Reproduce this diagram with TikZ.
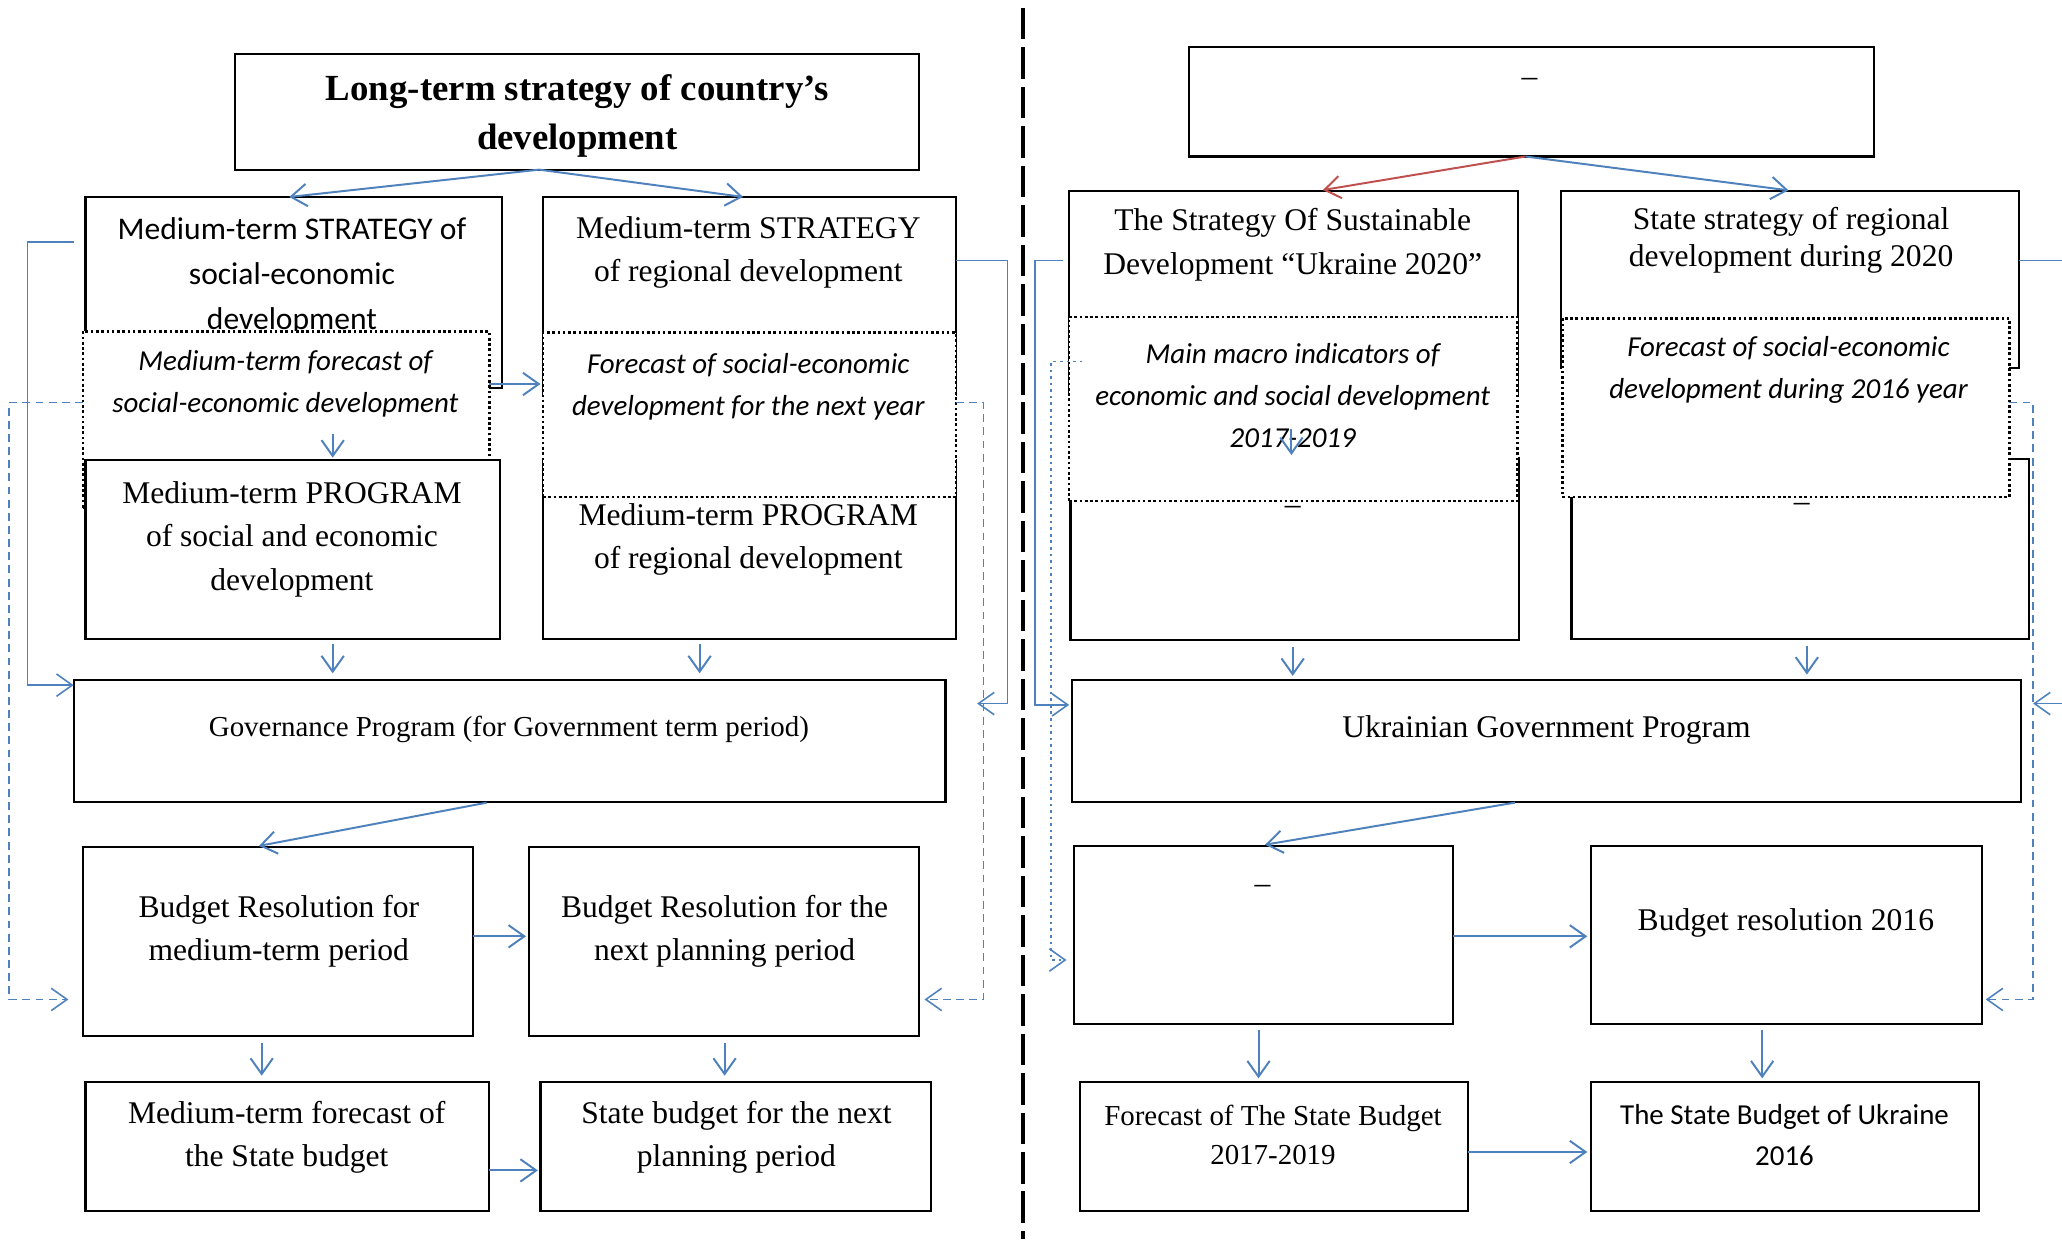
\documentclass[tikz,border=0pt]{standalone}
\usepackage{fontspec}
\setmainfont{Liberation Serif}
\newfontfamily\calibri{Carlito}
\usetikzlibrary{arrows.meta,fit}
\definecolor{ublue}{HTML}{4F81BD}
\definecolor{ured}{HTML}{C0504D}
\tikzset{
  box/.style={draw, line width=0.8pt, fill=white, inner sep=0pt, outer sep=0pt},
  dbox/.style={draw, line width=1pt, dash pattern=on 1pt off 1pt, fill=white, inner sep=0pt, outer sep=0pt},
  txt/.style={align=center, inner sep=0pt, font=\fontsize{12pt}{16.5pt}\selectfont},
  txtsm/.style={align=center, inner sep=0pt, font=\fontsize{11pt}{15pt}\selectfont},
  ctxt/.style={align=center, inner sep=0pt, font=\calibri\fontsize{12pt}{17pt}\selectfont},
  ctxtsm/.style={align=center, inner sep=0pt, font=\calibri\fontsize{11pt}{15.5pt}\selectfont},
  itxt/.style={align=center, inner sep=0pt, font=\calibri\itshape\fontsize{11pt}{16pt}\selectfont},
  titletxt/.style={align=center, inner sep=0pt, font=\bfseries\fontsize{14pt}{18.5pt}\selectfont},
  conn/.style={draw=ublue, line width=0.75pt, -{Straight Barb[length=6pt,width=8.5pt]}},
  redconn/.style={conn, draw=ured},
  fb/.style={draw=ublue, line width=0.6pt, -{Straight Barb[length=6pt,width=8.5pt]}},
  fbd/.style={fb, dash pattern=on 3pt off 2pt},
  fbo/.style={fb, dash pattern=on 1pt off 1.5pt},
  sepline/.style={draw=black, line width=1.25pt, dash pattern=on 12pt off 3pt, dash phase=-3pt},
}
\begin{document}
\begin{tikzpicture}[x=0.5pt,y=-0.5pt]
\useasboundingbox (0,0) rectangle (1568,942.2);
\clip (0,0) rectangle (1568,942.2);

% separator
\coordinate (s1) at (778,0);
\coordinate (s2) at (778,942.2);
\draw[sepline] (s1) -- (s2);

% ---------------- LEFT ----------------
\node[box, fit={(179,41)(699,129)}] (T1) {};
\node[titletxt] (T1t) at (439,88) {Long-term strategy of country’s\\development};

\node[box, fit={(65,150)(382,295)}] (sA) {};
\node[ctxt] (sAt) at (222,210) {Medium-term STRATEGY of\\social-economic\\development};
\node[dbox, fit={(63,252)(372,386)}] (dA) {};
\node[itxt] (dAt) at (217,292) {Medium-term forecast of\\social-economic development};
\node[box, fit={(65,350)(380,486)}] (pA) {};
\node[txt] (pAt) at (222,410) {Medium-term PROGRAM\\of social and economic\\development};

\node[box, fit={(413,150)(727,300)}] (sB) {};
\node[txt] (sBt) at (569,192) {Medium-term STRATEGY\\of regional development};
\node[box, fit={(413,350)(727,486)}] (pB) {};
\node[dbox, fit={(413,253)(727,378)}] (dB) {};
\node[itxt] (dBt) at (569,294) {Forecast of social-economic\\development for the next year};
\node[txt] (pBt) at (569,410) {Medium-term PROGRAM\\of regional development};

\node[box, fit={(56,517)(719,610)}] (G1) {};
\node[txtsm] (G1t) at (387,555) {Governance Program (for Government term period)};

\node[box, fit={(63,644)(360,788)}] (bA) {};
\node[txt] (bAt) at (212,708) {Budget Resolution for\\medium-term period};
\node[box, fit={(402,644)(699,788)}] (bB) {};
\node[txt] (bBt) at (551,708) {Budget Resolution for the\\next planning period};

\node[box, fit={(65,823)(372,921)}] (fA) {};
\node[txt] (fAt) at (218,865) {Medium-term forecast of\\the State budget};
\node[box, fit={(411,823)(708,921)}] (fB) {};
\node[txt] (fBt) at (560,865) {State budget for the next\\planning period};

% ---------------- RIGHT ----------------
\node[box, fit={(904,36)(1425,119)}] (T2) {};
\node[txt] (T2t) at (1163,63) {–};

\node[box, fit={(813,145)(1154,300)}] (sC) {};
\node[txt] (sCt) at (983,186) {The Strategy Of Sustainable\\Development “Ukraine 2020”};
\node[box, fit={(814,348)(1155,487)}] (pC) {};
\node[dbox, fit={(813,241)(1154,381)}] (dC) {};
\node[itxt] (dCt) at (983,301) {Main macro indicators of\\economic and social development\\2017-2019};
\node[txt] (pCt) at (983,388) {–};

\node[box, fit={(1187,145)(1535,280)}] (sD) {};
\node[txt, font=\fontsize{12pt}{14pt}\selectfont] (sDt) at (1362,183) {State strategy of regional\\development during 2020};
\node[box, fit={(1195,349)(1543,486)}] (pD) {};
\node[dbox, fit={(1188,242)(1528,378)}] (dD) {};
\node[itxt] (dDt) at (1360,281) {Forecast of social-economic\\development during 2016 year};
\node[txt] (pDt) at (1370,386) {–};

\node[box, fit={(815,517)(1537,610)}] (G2) {};
\node[txt] (G2t) at (1176,555) {Ukrainian Government Program};

\node[box, fit={(817,643)(1105,779)}] (bE) {};
\node[txt] (bEt) at (960,676) {–};
\node[box, fit={(1210,643)(1507,779)}] (bF) {};
\node[txt] (bFt) at (1358,702) {Budget resolution 2016};

\node[box, fit={(821,823)(1116,921)}] (fG) {};
\node[txtsm] (fGt) at (968,863) {Forecast of The State Budget\\2017-2019};
\node[box, fit={(1210,823)(1505,921)}] (fH) {};
\node[ctxtsm] (fHt) at (1357,863) {The State Budget of Ukraine\\2016};

% ---------------- CONNECTORS LEFT ----------------
\draw[conn, shorten >=1pt] (T1.south -| 410,0) -- (sA.north -| 218,0);
\draw[conn, shorten >=1pt] (T1.south -| 410,0) -- (sB.north -| 567,0);
\coordinate (a3) at (253,330);
\draw[conn, shorten >=1pt] (a3) -- (pA.north -| a3);
\draw[conn, shorten >=1pt] (dA.east |- 0,292) -- (dB.west |- 0,292);
\draw[conn, shorten <=2pt, shorten >=2.5pt] (pA.south -| 253,0) -- (G1.north -| 253,0);
\draw[conn, shorten <=2pt, shorten >=2.5pt] (pB.south -| 532,0) -- (G1.north -| 532,0);
\draw[conn, shorten <=1pt, shorten >=2pt] (G1.south -| 372,0) -- (bA.north -| 193,0);
\draw[conn, shorten >=1pt] (bA.east |- 0,712) -- (bB.west |- 0,712);
\draw[conn, shorten <=2.5pt, shorten >=2.5pt] (bA.south -| 199,0) -- (fA.north -| 199,0);
\draw[conn, shorten <=2.5pt, shorten >=2.5pt] (bB.south -| 551,0) -- (fB.north -| 551,0);
\draw[conn, shorten >=1pt] (fA.east |- 0,890) -- (fB.west |- 0,890);

\draw[fb, shorten <=4.5pt] (sA.west |- 0,184) -- ++(-44,0) |- ([yshift=-2pt]G1.north west);
\draw[fbd, shorten >=5.5pt] (dA.west |- 0,306) -- ++(-56,0) |- (bA.west |- 0,760);
\draw[fb, shorten >=12pt] (sB.east |- 0,198) -- ++(39,0) |- (G1.east |- 0,535);
\draw[fbd, shorten >=2pt] (dB.east |- 0,306) -- ++(21,0) |- (bB.east |- 0,760);

% ---------------- CONNECTORS RIGHT ----------------
\draw[redconn, shorten >=1.5pt] (T2.south -| 1160,0) -- (sC.north -| 1003,0);
\draw[conn, shorten >=1pt] (T2.south -| 1160,0) -- (sD.north -| 1362,0);
\coordinate (c3) at (982,326);
\draw[conn, shorten >=1pt] (c3) -- (pC.north -| c3);
\draw[conn, shorten <=2.5pt, shorten >=1.5pt] (pC.south -| 983,0) -- (G2.north -| 983,0);
\draw[conn, shorten <=2.5pt, shorten >=2pt] (pD.south -| 1374,0) -- (G2.north -| 1374,0);
\draw[conn, shorten <=1pt, shorten >=2pt] (G2.south -| 1154,0) -- (bE.north -| 958,0);
\draw[conn, shorten >=1.5pt] (bE.east |- 0,712) -- (bF.west |- 0,712);
\draw[conn, shorten <=2pt, shorten >=1.5pt] (bE.south -| 957,0) -- (fG.north -| 957,0);
\draw[conn, shorten <=2pt, shorten >=1.5pt] (bF.south -| 1340,0) -- (fH.north -| 1340,0);
\draw[conn, shorten >=1.5pt] (fG.east |- 0,876) -- (fH.west |- 0,876);

\draw[fb, shorten <=2.5pt, shorten >=1pt] (sC.west |- 0,198) -- ++(-26,0) |- (G2.west |- 0,536);
\coordinate (c5) at (823,275);
\draw[fbo, shorten >=3pt] (c5) -- ++(-24,0) |- (bE.west |- 0,730);
\draw[fb, shorten >=4.5pt] (sD.east |- 0,198) -- ++(40,0) |- (G2.east |- 0,535);
\draw[fbd, shorten >=1.5pt] (dD.east |- 0,306) -- ++(18,0) |- (bF.east |- 0,760);
\end{tikzpicture}
\end{document}
